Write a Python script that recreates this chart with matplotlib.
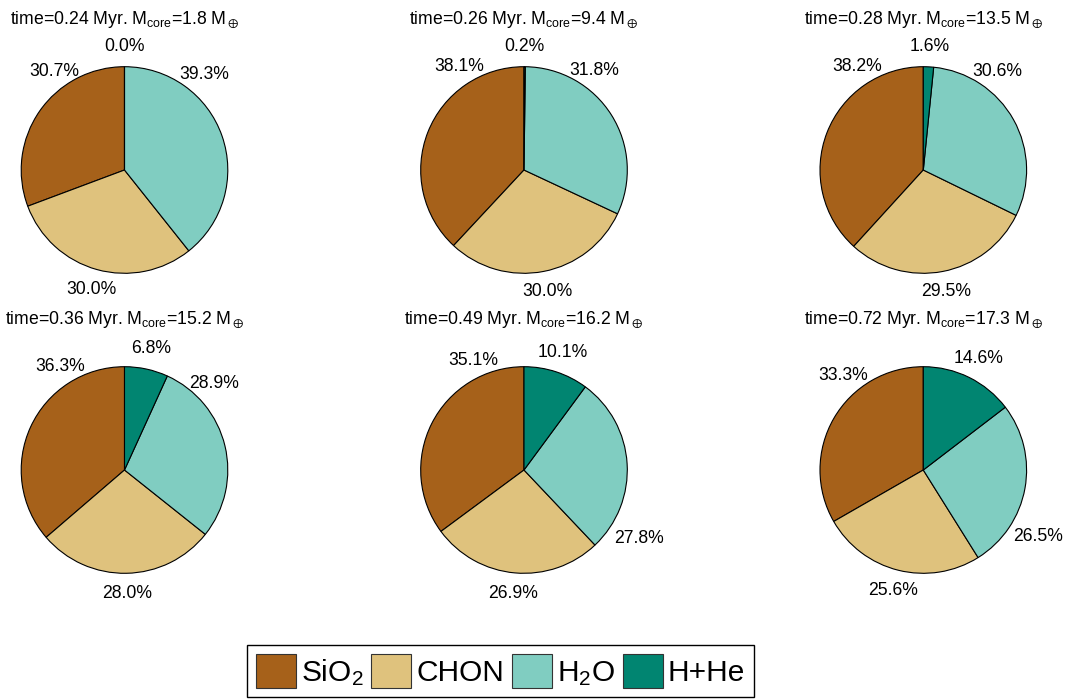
import numpy as np
import matplotlib
matplotlib.use('Agg')
import matplotlib.pyplot as plt
from matplotlib.patches import Patch

plt.rcParams['font.family'] = ['Liberation Sans', 'DejaVu Sans']
plt.rcParams['mathtext.fontset'] = 'custom'
plt.rcParams['mathtext.rm'] = 'Liberation Sans'
plt.rcParams['mathtext.it'] = 'Liberation Sans:italic'
plt.rcParams['mathtext.fallback'] = 'stixsans'

# data
species = ['SiO$_2$', 'CHON', 'H$_2$O', 'H+He']
colors = ['#a6611a', '#dfc27d', '#80cdc1', '#018571']
times = [0.24, 0.26, 0.28, 0.36, 0.49, 0.72]
mcore = [1.8, 9.4, 13.5, 15.2, 16.2, 17.3]
sio2 = [30.7, 38.1, 38.2, 36.3, 35.1, 33.3]
chon = [30.0, 30.0, 29.5, 28.0, 26.9, 25.6]
h2o = [39.3, 31.8, 30.6, 28.9, 27.8, 26.5]
hhe = [0.0, 0.2, 1.6, 6.8, 10.1, 14.6]

# hand-placed label spots (in pie radii) for the H2O and SiO2 labels
h2o_lab = [(0.77, 0.92), (0.68, 0.96), (0.72, 0.95), (0.87, 0.84), (1.11, -0.66), (1.11, -0.64)]
sio2_lab = [(-0.68, 0.95), (-0.63, 1.00), (-0.64, 1.00), (-0.62, 1.00), (-0.49, 1.06), (-0.78, 0.91)]

W, H = 1068, 700
fig = plt.figure(figsize=(W / 100, H / 100), dpi=100)

cxs = [124.5, 524, 923.3]
cys = [170, 470]
R = 103.3
fs = 12.7

for i in range(6):
    cx = cxs[i % 3]
    cy = cys[i // 3]
    ax = fig.add_axes([(cx - R) / W, (H - cy - R) / H, 2 * R / W, 2 * R / H])
    vals = [sio2[i], chon[i], h2o[i], hhe[i]]
    wedges, _ = ax.pie(vals, colors=colors, startangle=90, counterclock=True,
                       wedgeprops=dict(edgecolor='black', linewidth=0.8))
    ax.set_xlim(-1, 1)
    ax.set_ylim(-1, 1)
    ax.axis('off')
    for k, w in enumerate(wedges):
        if k == 0:
            x, y = sio2_lab[i]
        elif k == 2:
            x, y = h2o_lab[i]
        else:
            ang = np.deg2rad((w.theta1 + w.theta2) / 2)
            x, y = 1.2 * np.cos(ang), 1.2 * np.sin(ang)
        ax.text(x, y, '%.1f%%' % vals[k], ha='center', va='center',
                fontsize=fs, clip_on=False)
    fig.text(cx / W, 1 - (cy - 147) / H,
             'time=%.2f Myr. M$_{\\mathregular{core}}$=%.1f M$_\\oplus$' % (times[i], mcore[i]),
             ha='center', va='baseline', fontsize=fs)

handles = [Patch(facecolor=c, edgecolor='#333333', linewidth=0.8) for c in colors]
fig.legend(handles, species, loc='upper left', bbox_to_anchor=(247 / W, 1 - 645 / H),
           ncol=4, fontsize=21.5, frameon=True, fancybox=False, edgecolor='black',
           framealpha=1, borderaxespad=0, borderpad=0.3, handlelength=1.33,
           handleheight=1.4, handletextpad=0.17, columnspacing=0.27)

fig.savefig('out.png', dpi=100)
